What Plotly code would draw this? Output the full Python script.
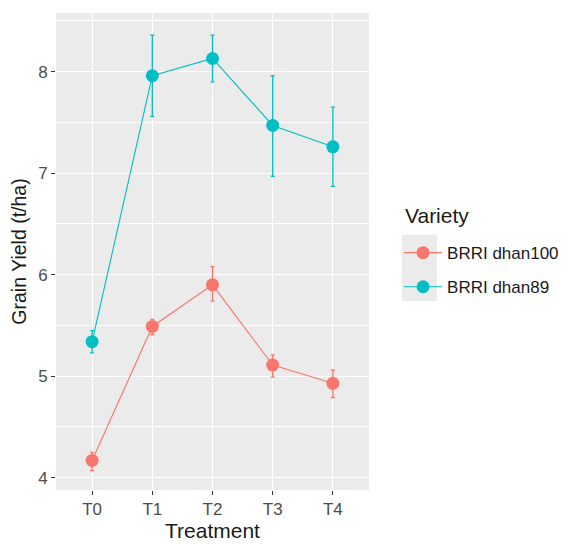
import plotly.graph_objects as go

treatments = ["T0", "T1", "T2", "T3", "T4"]
dhan100_mean = [4.17, 5.49, 5.90, 5.11, 4.93]
dhan100_err_up = [0.08, 0.07, 0.18, 0.10, 0.13]
dhan100_err_dn = [0.10, 0.08, 0.16, 0.12, 0.14]
dhan89_mean = [5.34, 7.96, 8.13, 7.47, 7.26]
dhan89_err_up = [0.11, 0.40, 0.23, 0.49, 0.39]
dhan89_err_dn = [0.11, 0.40, 0.23, 0.50, 0.39]

c100 = "#F8766D"
c89 = "#00BFC4"
font = "Liberation Sans, Arial, sans-serif"

fig = go.Figure()
for name, mean, up, dn, col in [
    ("BRRI dhan100", dhan100_mean, dhan100_err_up, dhan100_err_dn, c100),
    ("BRRI dhan89", dhan89_mean, dhan89_err_up, dhan89_err_dn, c89),
]:
    fig.add_trace(go.Scatter(
        x=list(range(len(treatments))), y=mean, name=name, legendgroup=name,
        mode="lines+markers",
        line=dict(color=col, width=1.1),
        marker=dict(color=col, size=13),
        error_y=dict(type="data", symmetric=False, array=up, arrayminus=dn,
                     color=col, thickness=1.3, width=2),
    ))

# legend key background (ggplot-style grey key box)
fig.add_shape(type="rect", xref="paper", yref="paper",
              x0=1.105, x1=1.217, y0=0.396, y1=0.535,
              fillcolor="#EBEBEB", line=dict(width=0), layer="below")

# legend title as annotation
fig.add_annotation(text="Variety", xref="paper", yref="paper",
                   x=1.109, y=0.5765, xanchor="left", yanchor="middle",
                   showarrow=False, font=dict(size=21, color="#1A1A1A"))

fig.update_layout(
    width=562, height=536,
    margin=dict(l=48, r=201, t=5, b=54),
    paper_bgcolor="white", plot_bgcolor="#EBEBEB",
    font=dict(family=font, color="#4D4D4D"),
    showlegend=True,
    legend=dict(
        font=dict(size=17, color="#1A1A1A"),
        x=1.096, y=0.461, xanchor="left", yanchor="middle",
        bgcolor="rgba(0,0,0,0)",
        tracegroupgap=9, itemwidth=38,
    ),
    xaxis=dict(
        title=dict(text="Treatment", font=dict(size=21, color="#1A1A1A"), standoff=2),
        tickmode="array", tickvals=list(range(len(treatments))), ticktext=treatments,
        range=[-0.6, 4.6], showgrid=True, gridcolor="white", gridwidth=1.3,
        zeroline=False, ticks="outside", ticklen=4, tickcolor="#333333",
        tickfont=dict(size=17, color="#4D4D4D"),
    ),
    yaxis=dict(
        title=dict(text="Grain Yield (t/ha)", font=dict(size=19.5, color="#1A1A1A"), standoff=6),
        range=[3.879, 8.578], tickvals=[4, 5, 6, 7, 8],
        showgrid=True, gridcolor="white", gridwidth=1.3,
        minor=dict(tickvals=[4.5, 5.5, 6.5, 7.5, 8.5], showgrid=True,
                   gridcolor="white", gridwidth=0.6, ticks=""),
        zeroline=False, ticks="outside", ticklen=4, tickcolor="#333333",
        tickfont=dict(size=17, color="#4D4D4D"),
    ),
)

fig.write_html("out.html")
